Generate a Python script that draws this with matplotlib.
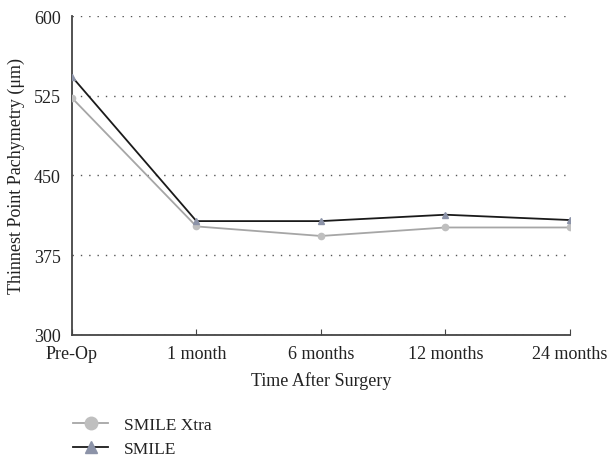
import matplotlib.pyplot as plt

plt.rcParams['font.family'] = ['Liberation Serif', 'DejaVu Serif']

# données
times = ['Pre-Op', '1 month', '6 months', '12 months', '24 months']
smile_xtra = [523, 402, 393, 401, 401]
smile = [543, 407, 407, 413, 408]

fig = plt.figure(figsize=(6.09, 4.60), dpi=100)
ax = fig.add_axes([0.118, 0.270, 0.818, 0.693])

ax.plot(times, smile_xtra, color='#a6a6a6', lw=1.3, marker='o', ms=4.5,
        markerfacecolor='#bfbfbf', markeredgecolor='#bfbfbf', label='SMILE Xtra', zorder=3)
ax.plot(times, smile, color='#1a1a1a', lw=1.3, marker='^', ms=4.5,
        markerfacecolor='#8c93a8', markeredgecolor='#8c93a8', label='SMILE', zorder=3)

ax.set_ylim(300, 600)
ax.set_xlim(0, len(times) - 1)
ax.set_yticks([300, 375, 450, 525, 600])
ax.yaxis.grid(True, linestyle=(0, (1, 5)), color='#555555', lw=1)
ax.set_axisbelow(True)

for s in ['top', 'right']:
    ax.spines[s].set_visible(False)
ax.spines['left'].set_color('#444444')
ax.spines['bottom'].set_color('#444444')
ax.spines['left'].set_linewidth(1.3)
ax.spines['bottom'].set_linewidth(1.3)

ax.tick_params(axis='y', length=0, pad=8, labelsize=13, labelcolor='#222222')
ax.tick_params(axis='x', direction='in', length=4, color='#444444', pad=7,
               labelsize=13, labelcolor='#222222')

ax.set_xlabel('Time After Surgery', fontsize=13, color='#222222', labelpad=7)
ax.set_ylabel('Thinnest Point Pachymetry (μm)', fontsize=13, color='#222222', labelpad=6)

fig.legend(loc='lower left', bbox_to_anchor=(0.095, -0.03), frameon=False,
           fontsize=12.5, handlelength=2.0, handletextpad=0.9, labelspacing=0.45,
           markerscale=2.0, labelcolor='#222222')

plt.savefig('out.png')
